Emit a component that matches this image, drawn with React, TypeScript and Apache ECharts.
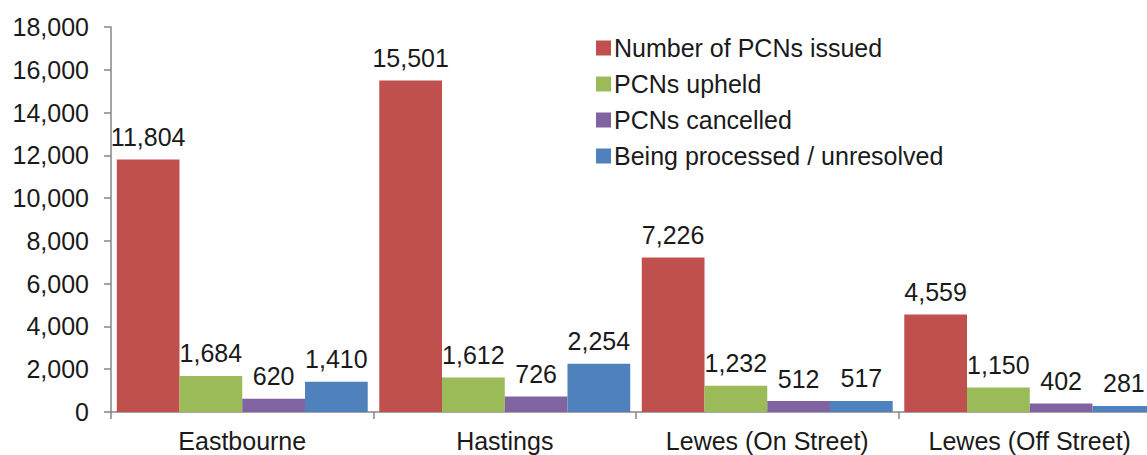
import React, { useEffect, useRef } from "react";
import * as echarts from "echarts";

const categories = ["Eastbourne", "Hastings", "Lewes (On Street)", "Lewes (Off Street)"];
const seriesNames = ["Number of PCNs issued", "PCNs upheld", "PCNs cancelled", "Being processed / unresolved"];
const issued = [11804, 15501, 7226, 4559];
const upheld = [1684, 1612, 1232, 1150];
const cancelled = [620, 726, 512, 402];
const processing = [1410, 2254, 517, 281];
const colors = ["#C0504D", "#9BBB59", "#8064A2", "#4F81BD"];

const fmt = (v: number) => Number(v).toLocaleString("en-US");

export default function App() {
  const ref = useRef<HTMLDivElement>(null);
  useEffect(() => {
    const chart = echarts.init(ref.current!, null, { renderer: "svg" });
    const font = "'Liberation Sans', Arial, sans-serif";
    const dataSets = [issued, upheld, cancelled, processing];
    chart.setOption({
      animation: false,
      textStyle: { fontFamily: font },
      grid: { left: 111, width: 1050, top: 27, bottom: 43, containLabel: false, outerBoundsMode: "none" },
      legend: {
        orient: "vertical",
        left: 591,
        top: 30,
        itemWidth: 15,
        itemHeight: 15,
        itemGap: 10,
        icon: "rect",
        textStyle: { fontSize: 25, color: "#1a1a1a", fontFamily: font, lineHeight: 26, padding: [0, 0, 0, -2] },
        data: seriesNames,
      },
      xAxis: {
        type: "category",
        data: categories,
        axisLine: { lineStyle: { color: "#868686", width: 1.5 } },
        axisTick: { show: true, length: 7, lineStyle: { color: "#868686", width: 1.5 } },
        axisLabel: { interval: 0, fontSize: 25, color: "#1a1a1a", margin: 16, fontFamily: font },
      },
      yAxis: {
        type: "value",
        min: 0,
        max: 18000,
        interval: 2000,
        splitLine: { show: false },
        axisLine: { show: true, lineStyle: { color: "#868686", width: 1.5 } },
        axisTick: { show: true, length: 7, lineStyle: { color: "#868686", width: 1.5 } },
        axisLabel: { fontSize: 25, color: "#1a1a1a", margin: 22, fontFamily: font, formatter: (v: number) => fmt(v) },
      },
      series: seriesNames.map((name, i) => ({
        name,
        type: "bar",
        data: dataSets[i],
        barGap: "0%",
        barCategoryGap: "4.4%",
        itemStyle: { color: colors[i] },
        label: {
          show: true,
          position: "top",
          distance: 10,
          fontSize: 25,
          color: "#1a1a1a",
          fontFamily: font,
          formatter: (p: any) => fmt(p.value),
        },
      })),
    });
    return () => chart.dispose();
  }, []);
  return (
    <div
      ref={ref}
      style={{ position: "absolute", left: 0, top: 0, width: 1147, height: 455, background: "#fff" }}
    />
  );
}
